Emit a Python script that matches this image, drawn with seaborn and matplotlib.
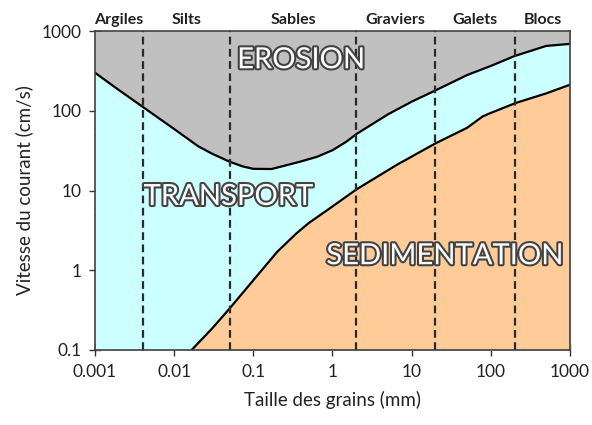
import numpy as np
import pandas as pd
import matplotlib
matplotlib.use("Agg")
import matplotlib.pyplot as plt
import matplotlib.patheffects as pe
import matplotlib.transforms as mtransforms
import seaborn as sns

erosion_x = [0.001, 0.002, 0.004, 0.01, 0.02, 0.03, 0.05, 0.074, 0.1, 0.17,
             0.24, 0.39, 0.64, 1, 1.5, 2, 5, 10, 20, 50, 100, 200, 500, 1000]
erosion_v = [300, 182, 112, 59, 36, 29, 23, 20, 18.7, 18.6,
             20.3, 23, 26.5, 32, 41, 51, 90, 130, 180, 280, 365, 486, 650, 690]

sedim_x = [0.0166, 0.03, 0.05, 0.1, 0.133, 0.2, 0.35, 0.5, 0.93, 2, 6.5,
           20, 50, 79, 100, 210, 500, 1000]
sedim_v = [0.1, 0.185, 0.33, 0.75, 1.05, 1.7, 2.9, 3.9, 6.0, 10.3, 21,
           39, 61, 85, 94, 126, 165, 212]

bornes = [0.004, 0.05, 2, 20, 200]
classes = ["Argiles", "Silts", "Sables", "Graviers", "Galets", "Blocs"]
classes_x = [0.002, 0.0145, 0.32, 6.3, 63, 450]

zones = ["EROSION", "TRANSPORT", "SEDIMENTATION"]
zones_x = [0.40, 0.048, 26]
zones_v = [430, 8.3, 1.5]

df_ero = pd.DataFrame({"taille": erosion_x, "vitesse": erosion_v})
df_sed = pd.DataFrame({"taille": sedim_x, "vitesse": sedim_v})

# --- Style ---
sns.set_style("ticks")
plt.rcParams["font.family"] = ["Lato", "DejaVu Sans"]

fig = plt.figure(figsize=(5.92, 4.25), dpi=100)
ax = fig.add_axes([0.1605, 0.1765, 0.8023, 0.7505])

ymin, ymax = 0.1, 1000

# zones colorees
ax.fill_between(df_ero["taille"], ymin, df_ero["vitesse"], color="#CCFFFF", lw=0)
ax.fill_between(df_ero["taille"], df_ero["vitesse"], ymax, color="#C0C0C0", lw=0)
ax.fill_between(df_sed["taille"], ymin, df_sed["vitesse"], color="#FFCC99", lw=0)

sns.lineplot(data=df_ero, x="taille", y="vitesse", ax=ax, color="black", lw=1.6,
             solid_joinstyle="round")
sns.lineplot(data=df_sed, x="taille", y="vitesse", ax=ax, color="black", lw=1.6,
             solid_joinstyle="round")

for b in bornes:
    ax.axvline(b, color="#2a2a2a", lw=1.6, ls=(0, (3.5, 2)))

ax.set_xscale("log")
ax.set_yscale("log")
ax.set_xlim(0.001, 1000)
ax.set_ylim(ymin, ymax)

ax.set_xticks([0.001, 0.01, 0.1, 1, 10, 100, 1000])
ax.set_xticklabels(["0.001", "0.01", "0.1", "1", "10", "100", "1000"])
ax.set_yticks([0.1, 1, 10, 100, 1000])
ax.set_yticklabels(["0.1", "1", "10", "100", "1000"])

ax.tick_params(which="major", direction="inout", length=8, width=1,
               color="#333333", labelsize=12.5, labelcolor="#222222", pad=6)
ax.tick_params(which="minor", direction="in", length=4, width=0.8,
               color="#333333")
for s in ax.spines.values():
    s.set_color("#404040")
    s.set_linewidth(1.2)

ax.set_xlabel("Taille des grains (mm)", fontsize=13.5, color="#222222", labelpad=8)
ax.set_ylabel("Vitesse du courant (cm/s)", fontsize=13.5, color="#222222", labelpad=6)

# noms des classes granulometriques
trans = mtransforms.blended_transform_factory(ax.transData, ax.transAxes)
for nom, xc in zip(classes, classes_x):
    ax.text(xc, 1.036, nom, transform=trans, ha="center", va="center",
            fontsize=11.5, fontweight="bold", color="#222222")

# noms des zones
for nom, xc, yc in zip(zones, zones_x, zones_v):
    ax.text(xc, yc, nom, ha="center", va="center", fontsize=21, color="white",
            path_effects=[pe.withStroke(linewidth=3, foreground="#444444")])

fig.savefig("out.png", dpi=100)
